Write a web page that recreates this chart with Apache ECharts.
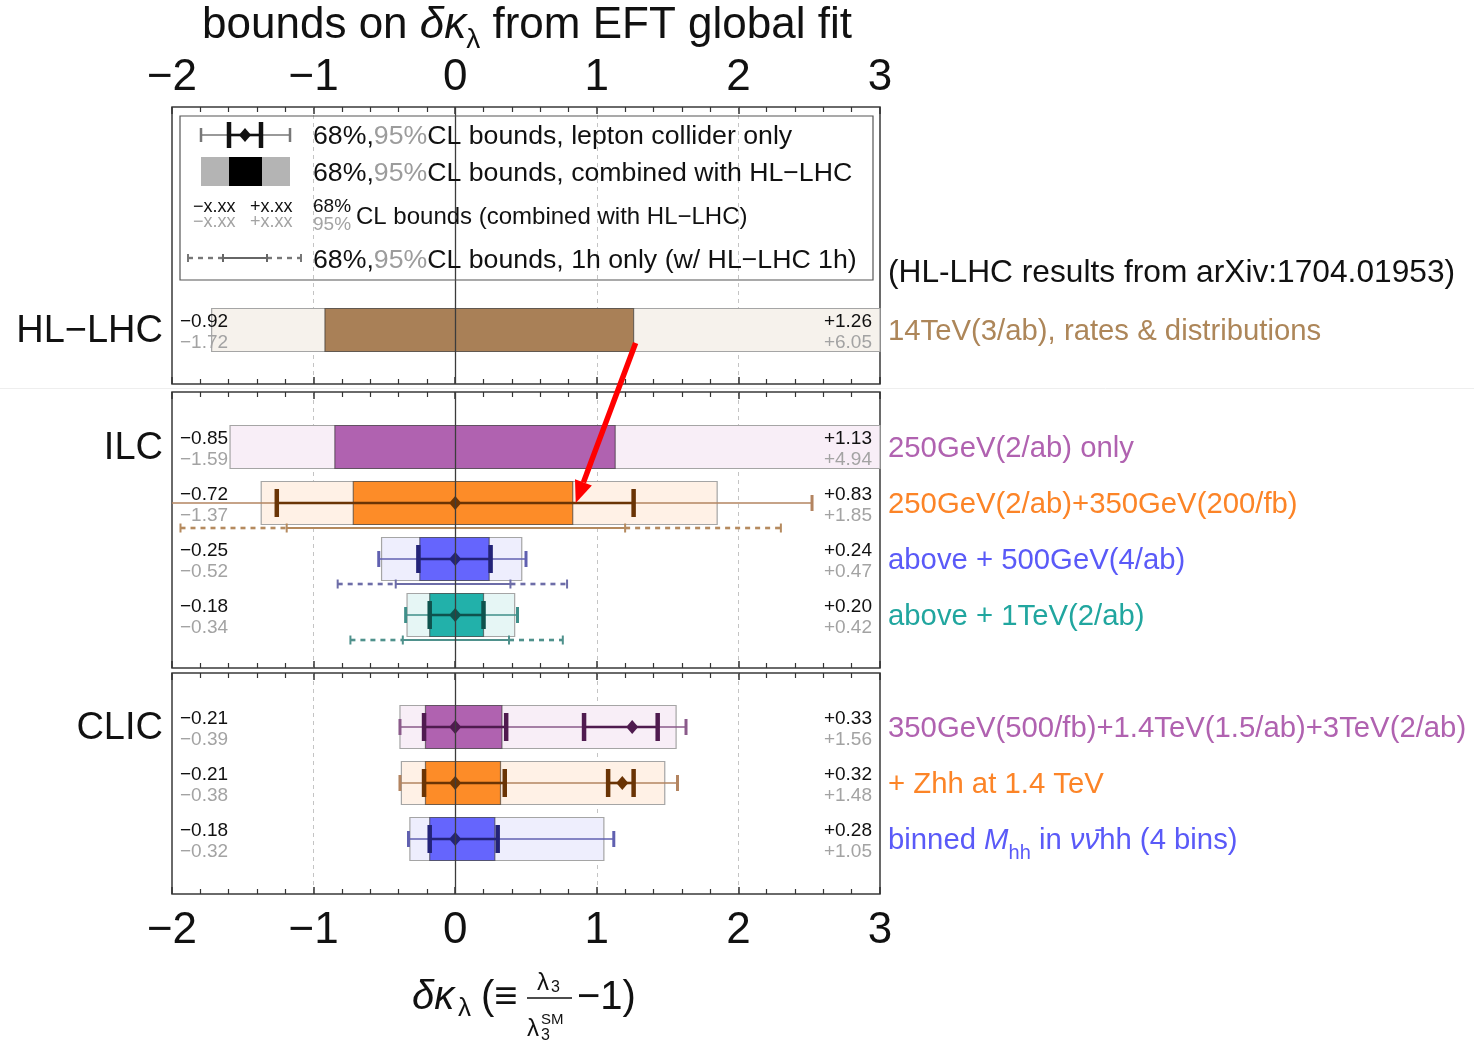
<!DOCTYPE html>
<html>
<head>
<meta charset="utf-8">
<script src="https://cdn.jsdelivr.net/npm/echarts@6/dist/echarts.min.js"></script>
<style>
  html, body { margin: 0; padding: 0; background: #ffffff; }
  #chart { width: 1474px; height: 1042px; }
</style>
</head>
<body>
<div id="chart"></div>
<script>
const FONT = '"Liberation Sans", Arial, Helvetica, sans-serif';

// ---- axis ----
const xMin = -2;
const xMax = 3;
const xTickLabels = ['−2', '−1', '0', '1', '2', '3'];

// ---- rows ----
const groupNames = ['HL−LHC', 'ILC', 'CLIC'];
const rowGroup = [0, 1, 1, 1, 1, 2, 2, 2];
const rowSlot  = [0, 0, 1, 2, 3, 0, 1, 2];
const rowLabels = [
  '14TeV(3/ab), rates & distributions',
  '250GeV(2/ab) only',
  '250GeV(2/ab)+350GeV(200/fb)',
  'above + 500GeV(4/ab)',
  'above + 1TeV(2/ab)',
  '350GeV(500/fb)+1.4TeV(1.5/ab)+3TeV(2/ab)',
  '+ Zhh at 1.4 TeV',
  'binned {i|M}{s|hh} in {i|νν̄}hh (4 bins)'
];

// combined with HL-LHC: 68% and 95% CL bounds
const lo68 = [-0.92, -0.85, -0.72, -0.25, -0.18, -0.21, -0.21, -0.18];
const hi68 = [ 1.26,  1.13,  0.83,  0.24,  0.20,  0.33,  0.32,  0.28];
const lo95 = [-1.72, -1.59, -1.37, -0.52, -0.34, -0.39, -0.38, -0.32];
const hi95 = [ 6.05,  4.94,  1.85,  0.47,  0.42,  1.56,  1.48,  1.05];

// lepton collider only
const lepLo95  = [null, null, -2.60, -0.54, -0.35, -0.39, -0.39, -0.33];
const lepHi95  = [null, null,  2.52,  0.50,  0.44,  1.63,  1.57,  1.12];
const lepLo68  = [null, null, -1.26, -0.26, -0.18, -0.22, -0.22, -0.18];
const lepHi68  = [null, null,  1.26,  0.25,  0.20,  0.36,  0.35,  0.30];
const lepBest  = [null, null,  0.00,  0.00,  0.00,  0.00,  0.00,  0.00];
// second (non-SM) solution
const lepLo68b = [null, null, null, null, null, 0.91, 1.08, null];
const lepHi68b = [null, null, null, null, null, 1.43, 1.26, null];
const lepBestB = [null, null, null, null, null, 1.25, 1.18, null];

// 1h only (with HL-LHC 1h)
const oneLo95 = [null, null, -1.94, -0.83, -0.74, null, null, null];
const oneLo68 = [null, null, -1.19, -0.42, -0.37, null, null, null];
const oneHi68 = [null, null,  1.20,  0.39,  0.38, null, null, null];
const oneHi95 = [null, null,  2.30,  0.79,  0.76, null, null, null];

// ---- colours ----
const fill68  = ['#a98057', '#b062b0', '#fd8c28', '#6565fd', '#22b1aa', '#b062b0', '#fd8c28', '#6565fd'];
const fill95  = ['#f6f2ec', '#f8eef7', '#fff1e6', '#eeeefd', '#e6f6f5', '#f8eef7', '#fff1e6', '#eeeefd'];
const textCol = ['#ad8659', '#b062b0', '#fc8427', '#5a5af8', '#21a69f', '#b062b0', '#fc8427', '#5a5af8'];
const barCol  = [null, null, '#6a3405', '#232378', '#0f524d', '#4f1b4f', '#6a3405', '#232378'];
const thinCol = [null, null, '#b38460', '#6060b0', '#3f8f89', '#8a5a8a', '#b38460', '#6060b0'];
const oneCol  = [null, null, '#b58a5e', '#6d6da8', '#4f918c', null, null, null];

// ---- panel layout ----
const gridLeft = 172, gridWidth = 708;
const panels = [
  { top: 107, height: 277, yMin: -3.982, yMax: 0.964 },
  { top: 392, height: 276, yMin: -0.982, yMax: 3.946 },
  { top: 673, height: 221, yMin: -0.964, yMax: 2.982 }
];

const fmt = v => (v < 0 ? '−' : '+') + Math.abs(v).toFixed(2);
const tickFmt = v => xTickLabels[Math.round(v - xMin)];

function renderRow(params, api) {
  const i = api.value(0);
  const pos = api.value(1);
  const cs = params.coordSys;
  const left = cs.x, right = cs.x + cs.width;
  const cy = api.coord([0, pos])[1];
  const px = v => Math.max(left, Math.min(right, api.coord([v, pos])[0]));
  const inRange = v => v >= xMin && v <= xMax;
  const H = 43;
  const kids = [];
  const vline = (x, y1, y2, color, lw) => ({ type: 'line', shape: { x1: x, y1: y1, x2: x, y2: y2 }, style: { stroke: color, lineWidth: lw } });
  const hline = (x1, x2, y, color, lw, dash) => ({ type: 'line', shape: { x1: x1, y1: y, x2: x2, y2: y }, style: { stroke: color, lineWidth: lw, lineDash: dash || null } });

  // 95% and 68% bands
  kids.push({ type: 'rect', shape: { x: px(lo95[i]), y: cy - H / 2, width: px(hi95[i]) - px(lo95[i]), height: H },
              style: { fill: fill95[i], stroke: '#a5a5a5', lineWidth: 1.2 } });
  kids.push({ type: 'rect', shape: { x: px(lo68[i]), y: cy - H / 2, width: px(hi68[i]) - px(lo68[i]), height: H },
              style: { fill: fill68[i], stroke: 'rgba(50,50,50,0.6)', lineWidth: 1.2 } });

  // lepton-collider-only error bars
  if (lepLo95[i] != null) {
    kids.push(hline(px(lepLo95[i]), px(lepHi95[i]), cy, thinCol[i], 1.4));
    [lepLo95[i], lepHi95[i]].forEach(v => { if (inRange(v)) kids.push(vline(px(v), cy - 8, cy + 8, thinCol[i], 3)); });
    const islands = [[lepLo68[i], lepHi68[i], lepBest[i]]];
    if (lepLo68b[i] != null) islands.push([lepLo68b[i], lepHi68b[i], lepBestB[i]]);
    islands.forEach(([a, b, c]) => {
      kids.push(hline(px(a), px(b), cy, barCol[i], 2.6));
      kids.push(vline(px(a), cy - 14, cy + 14, barCol[i], 4.5));
      kids.push(vline(px(b), cy - 14, cy + 14, barCol[i], 4.5));
      const d = px(c);
      kids.push({ type: 'polygon', shape: { points: [[d, cy - 7], [d + 6, cy], [d, cy + 7], [d - 6, cy]] }, style: { fill: barCol[i] } });
    });
  }

  // 1h-only bounds
  if (oneLo95[i] != null) {
    const y = cy + 25;
    const c = oneCol[i];
    kids.push(hline(px(oneLo95[i]), px(oneLo68[i]), y, c, 2.6, [5, 5]));
    kids.push(hline(px(oneHi68[i]), px(oneHi95[i]), y, c, 2.6, [5, 5]));
    kids.push(hline(px(oneLo68[i]), px(oneHi68[i]), y, c, 2));
    [oneLo95[i], oneLo68[i], oneHi68[i], oneHi95[i]].forEach(v => kids.push(vline(px(v), y - 4.5, y + 4.5, c, 2)));
  }

  // numeric bounds
  const num = (x, y, text, color, align) => ({ type: 'text', x: x, y: y,
    style: { text: text, fill: color, font: '19px ' + FONT, textAlign: align, textVerticalAlign: 'middle' } });
  kids.push(num(left + 8, cy - 8, fmt(lo68[i]), '#111111', 'left'));
  kids.push(num(left + 8, cy + 13, fmt(lo95[i]), '#a3a3a3', 'left'));
  kids.push(num(right - 8, cy - 8, fmt(hi68[i]), '#111111', 'right'));
  kids.push(num(right - 8, cy + 13, fmt(hi95[i]), '#a3a3a3', 'right'));

  // row description
  kids.push({ type: 'text', x: right + 8, y: cy + 2,
    style: { text: rowLabels[i], fill: textCol[i], font: '29.3px ' + FONT, textAlign: 'left', textVerticalAlign: 'middle',
             rich: { i: { fontStyle: 'italic', fontSize: 29.3, fontFamily: FONT, fill: textCol[i] },
                     s: { fontSize: 20, fontFamily: FONT, fill: textCol[i], verticalAlign: 'bottom', lineHeight: 44 } } } });

  // collider name
  if (rowSlot[i] === 0) {
    kids.push({ type: 'text', x: left - 9, y: cy + 2,
      style: { text: groupNames[rowGroup[i]], fill: '#111111', font: '38px ' + FONT, textAlign: 'right', textVerticalAlign: 'middle' } });
  }
  return { type: 'group', children: kids };
}

const grids = [], xAxes = [], yAxes = [], series = [];
panels.forEach((p, g) => {
  grids.push({ left: gridLeft, width: gridWidth, top: p.top, height: p.height, show: true,
               borderColor: '#3a3a3a', borderWidth: 1.5, backgroundColor: 'transparent' });
  ['top', 'bottom'].forEach(position => {
    const showLabel = (g === 0 && position === 'top') || (g === 2 && position === 'bottom');
    xAxes.push({
      type: 'value', gridIndex: g, position: position, min: xMin, max: xMax, interval: 1,
      axisLine: { show: false, onZero: false },
      axisTick: { show: true, inside: true, length: 7, lineStyle: { color: '#333', width: 1.5 } },
      minorTick: { show: true, splitNumber: 5, length: 5, lineStyle: { color: '#333', width: 1.2 } },
      axisLabel: { show: showLabel, formatter: tickFmt, fontSize: 44, fontFamily: FONT, color: '#111',
                   margin: position === 'top' ? 7 : 15 },
      splitLine: position === 'bottom'
        ? { show: true, lineStyle: { type: [4, 4], width: 1, color: ['rgba(0,0,0,0)', '#c4c4c4', 'rgba(0,0,0,0)', '#c4c4c4', '#c4c4c4', 'rgba(0,0,0,0)'] } }
        : { show: false }
    });
  });
  yAxes.push({ type: 'value', gridIndex: g, inverse: true, min: p.yMin, max: p.yMax, show: false });
  const data = [];
  rowGroup.forEach((grp, i) => { if (grp === g) data.push([i, rowSlot[i]]); });
  series.push({
    type: 'custom', xAxisIndex: 2 * g + 1, yAxisIndex: g, clip: false, silent: true,
    renderItem: renderRow, data: data,
    markLine: { silent: true, symbol: ['none', 'none'], animation: false, label: { show: false },
                lineStyle: { color: '#3c3c3c', width: 1.3, type: 'solid' }, data: [{ xAxis: 0 }] }
  });
});

// legend box
const txt = (x, y, text, size, color, extra) => Object.assign({ type: 'text', x: x, y: y,
  style: Object.assign({ text: text, fill: color || '#111', font: size + 'px ' + FONT, textAlign: 'left', textVerticalAlign: 'middle' }, extra || {}) });
const ln = (x1, y1, x2, y2, color, lw, dash) => ({ type: 'line', shape: { x1: x1, y1: y1, x2: x2, y2: y2 }, style: { stroke: color, lineWidth: lw, lineDash: dash || null } });
const legendRich = {
  k: { fill: '#111', fontSize: 26.7, fontFamily: FONT },
  g: { fill: '#9c9c9c', fontSize: 26.7, fontFamily: FONT }
};
const legendEls = [
  { type: 'rect', shape: { x: 180, y: 116, width: 693, height: 164 }, style: { fill: 'none', stroke: '#555', lineWidth: 1.2 } },
  // lepton collider only
  ln(201, 135, 290, 135, '#777', 1.4),
  ln(201, 128, 201, 142, '#777', 2.5), ln(290, 128, 290, 142, '#777', 2.5),
  ln(229, 135, 261, 135, '#111', 2.6),
  ln(229, 122, 229, 148, '#111', 4.5), ln(261, 122, 261, 148, '#111', 4.5),
  { type: 'polygon', shape: { points: [[245, 128], [251, 135], [245, 142], [239, 135]] }, style: { fill: '#111' } },
  txt(313, 137, '{k|68%,}{g|95%}{k|CL bounds, lepton collider only}', 26.7, '#111', { rich: legendRich }),
  // combined with HL-LHC
  { type: 'rect', shape: { x: 201, y: 157, width: 89, height: 29 }, style: { fill: '#b4b4b4' } },
  { type: 'rect', shape: { x: 229, y: 157, width: 33, height: 29 }, style: { fill: '#000' } },
  txt(313, 174, '{k|68%,}{g|95%}{k|CL bounds, combined with HL−LHC}', 26.7, '#111', { rich: legendRich }),
  // numeric bounds
  txt(193, 207, '−x.xx', 18, '#111'), txt(193, 222, '−x.xx', 18, '#a3a3a3'),
  txt(250, 207, '+x.xx', 18, '#111'), txt(250, 222, '+x.xx', 18, '#a3a3a3'),
  txt(313, 207, '68%', 19, '#111'), txt(313, 225, '95%', 19, '#a3a3a3'),
  txt(356, 217, 'CL bounds (combined with HL−LHC)', 24, '#111'),
  // 1h only
  ln(188, 258, 223, 258, '#777', 2.4, [5, 5]), ln(267, 258, 301, 258, '#777', 2.4, [5, 5]),
  ln(223, 258, 267, 258, '#666', 2),
  ln(188, 254, 188, 262, '#777', 2), ln(223, 254, 223, 262, '#666', 2),
  ln(267, 254, 267, 262, '#666', 2), ln(301, 254, 301, 262, '#777', 2),
  txt(313, 261, '{k|68%,}{g|95%}{k|CL bounds, 1h only (w/ HL−LHC 1h)}', 26.7, '#111', { rich: legendRich })
];

// titles
const titleEls = [
  txt(527, 26, '{t|bounds on }{i|δκ}{s|λ}{t| from EFT global fit}', 44, '#111', {
    textAlign: 'center',
    rich: {
      t: { fontSize: 44, fontFamily: FONT, fill: '#111', lineHeight: 56 },
      i: { fontSize: 44, fontFamily: FONT, fontStyle: 'italic', fill: '#111', lineHeight: 56 },
      s: { fontSize: 28, fontFamily: FONT, fill: '#111', verticalAlign: 'bottom', lineHeight: 56 }
    }
  }),
  txt(888, 273, '(HL-LHC results from arXiv:1704.01953)', 31.7, '#111'),
  // x-axis title: δκλ (≡ λ3 / λ3^SM − 1)
  txt(412, 998, 'δκ', 40, '#111', { font: 'italic 40px ' + FONT }),
  txt(458, 1009, 'λ', 26, '#111'),
  txt(481, 998, '(≡', 40, '#111'),
  txt(537, 983, 'λ', 24, '#111'), txt(551, 988, '3', 16, '#111'),
  ln(527, 998, 572, 998, '#111', 1.5),
  txt(527, 1029, 'λ', 24, '#111'), txt(541, 1036, '3', 16, '#111'), txt(541, 1020, 'SM', 15, '#111'),
  txt(577, 998, '−1)', 40, '#111'),
  // separator between HL-LHC and the future colliders
  ln(0, 388.5, 1474, 388.5, '#eeeeee', 1)
];

const chart = echarts.init(document.getElementById('chart'), null, { renderer: 'canvas' });
chart.setOption({
  animation: false,
  backgroundColor: '#ffffff',
  textStyle: { fontFamily: FONT },
  grid: grids,
  xAxis: xAxes,
  yAxis: yAxes,
  series: series
});

// arrow from the HL-LHC 68% upper edge to the ILC 250+350 68% upper edge
const p0 = chart.convertToPixel({ seriesIndex: 0 }, [hi68[0], 0]);
const p1 = chart.convertToPixel({ seriesIndex: 1 }, [hi68[2], 1]);
const start = [p0[0] + 2, p0[1] + 13];
const tip = [p1[0] + 3, p1[1]];
const ang = Math.atan2(tip[1] - start[1], tip[0] - start[0]);
const headLen = 22, headW = 9;
const base = [tip[0] - headLen * Math.cos(ang), tip[1] - headLen * Math.sin(ang)];
const nx = -Math.sin(ang), ny = Math.cos(ang);
const arrowEls = [
  { type: 'line', z: 200, shape: { x1: start[0], y1: start[1], x2: base[0], y2: base[1] }, style: { stroke: '#ff0000', lineWidth: 5.5 } },
  { type: 'polygon', z: 200, shape: { points: [tip, [base[0] + nx * headW, base[1] + ny * headW], [base[0] - nx * headW, base[1] - ny * headW]] },
    style: { fill: '#ff0000' } }
];
chart.setOption({
  graphic: legendEls.concat(titleEls).map(e => Object.assign({ silent: true, z: 50 }, e)).concat(arrowEls)
});
</script>
</body>
</html>
